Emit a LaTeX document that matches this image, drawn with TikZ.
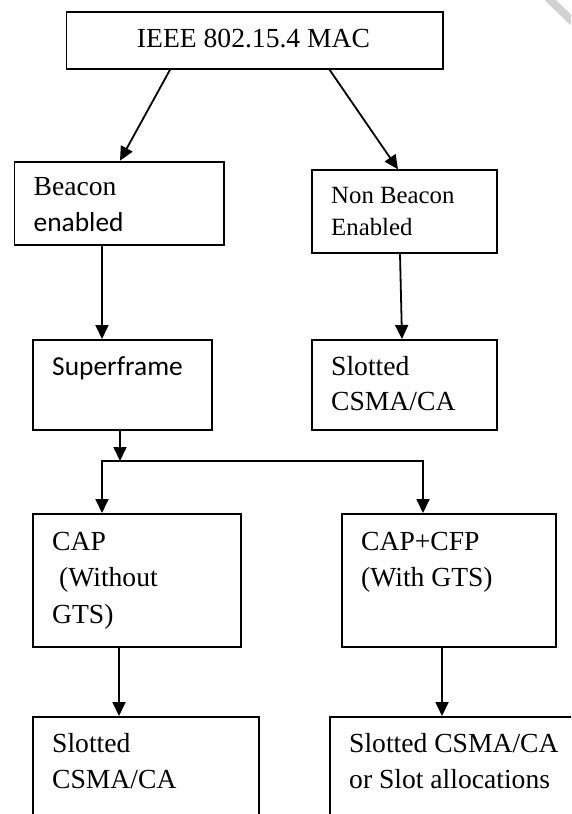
\documentclass[tikz,border=0pt]{standalone}
\usepackage{fontspec}
\setmainfont{Liberation Serif}
\newfontfamily\calibrifont{Carlito}
\usetikzlibrary{arrows.meta}

\tikzset{
  box/.style={draw=black, line width=1.8pt, rectangle, inner sep=0pt, anchor=north west},
  arr/.style={draw=black, line width=1.8pt, -{Triangle[length=14pt,width=13pt]}},
  plain/.style={draw=black, line width=1.8pt},
  lbl/.style={anchor=base west, inner sep=0pt, font=\fontsize{27.6}{33}\selectfont},
  lblsmall/.style={anchor=base west, inner sep=0pt, font=\fontsize{24.8}{30}\selectfont},
  lblsans/.style={anchor=base west, inner sep=0pt, font=\calibrifont\fontsize{27.4}{33}\selectfont}
}

\begin{document}
\begin{tikzpicture}[x=1pt,y=-1pt]
  \clip (0,0) rectangle (571,814);
  \fill[white] (0,0) rectangle (571,814);

  % faint stroke in the upper right corner
  \draw[line width=8pt, color=black!18] (548,-2) -- (573,22);

  % boxes
  \node[box, minimum width=376.5pt, minimum height=57pt]  (mac)    at (65.5,11)   {};
  \node[box, minimum width=209.5pt, minimum height=83pt]  (beacon) at (13.5,160.7) {};
  \node[box, minimum width=185pt,   minimum height=82.7pt] (nonb)  at (311,169.3) {};
  \node[box, minimum width=179pt,   minimum height=90pt]  (super)  at (32,339)    {};
  \node[box, minimum width=185pt,   minimum height=90pt]  (slota)  at (311,339)   {};
  \node[box, minimum width=208pt,   minimum height=133pt] (cap)    at (32,513)    {};
  \node[box, minimum width=214pt,   minimum height=133pt] (capcfp) at (341,513)   {};
  \node[box, minimum width=226pt,   minimum height=120pt] (slotb)  at (32,716)    {};
  \node[box, minimum width=252pt,   minimum height=120pt] (slotc)  at (329,716)   {};

  % texts
  \node[lbl, anchor=base] (tmac) at (253.5,47) {IEEE 802.15.4 MAC};

  \node[lbl] (tbeacon1) at (33.5,195.7) {Beacon};
  \node[lblsans] (tbeacon2) at (33.5,231.7) {enabled};

  \node[lblsmall] (tnonb1) at (331,203) {Non Beacon};
  \node[lblsmall] (tnonb2) at (331,235.7) {Enabled};

  \node[lblsans] (tsuper) at (52,375) {Superframe};

  \node[lbl] (tslota1) at (331,375) {Slotted};
  \node[lbl] (tslota2) at (331,410.7) {CSMA/CA};

  \node[lbl] (tcap1) at (52,550) {CAP};
  \node[lbl] (tcap2) at (59,586) {(Without};
  \node[lbl] (tcap3) at (52,623) {GTS)};

  \node[lbl] (tcapcfp1) at (361,550) {CAP+CFP};
  \node[lbl] (tcapcfp2) at (361,586) {(With GTS)};

  \node[lbl] (tslotb1) at (52,752) {Slotted};
  \node[lbl] (tslotb2) at (52,788) {CSMA/CA};

  \node[lbl] (tslotc1) at (349,752) {Slotted CSMA/CA};
  \node[lbl] (tslotc2) at (349,788) {or Slot allocations};

  % x positions where connectors meet the boxes
  \coordinate (xmacl) at (170,0);
  \coordinate (xmacr) at (329.6,0);
  \coordinate (xbeaconin) at (120,0);
  \coordinate (xnonbin) at (398,0);
  \coordinate (xleft) at (102,0);
  \coordinate (xnonbout) at (400,0);
  \coordinate (xslotain) at (402,0);
  \coordinate (xsuper) at (120,0);
  \coordinate (xcap) at (119,0);
  \coordinate (xcapcfp) at (442,0);

  % branching line below the superframe box
  \coordinate (jl) at (102,461);
  \coordinate (jm) at (120,461);
  \coordinate (jr) at (423,461);

  % connectors
  \draw[arr] (mac.south -| xmacl) -- (beacon.north -| xbeaconin);
  \draw[arr] (mac.south -| xmacr) -- (nonb.north -| xnonbin);
  \draw[arr] (beacon.south -| xleft) -- (super.north -| xleft);
  \draw[arr] (nonb.south -| xnonbout) -- (slota.north -| xslotain);
  \draw[arr] (super.south -| xsuper) -- (jm);
  \draw[plain, line cap=rect] (jl) -- (jr);
  \draw[arr] (jl) -- (cap.north -| jl);
  \draw[arr] (jr) -- (capcfp.north -| jr);
  \draw[arr] (cap.south -| xcap) -- (slotb.north -| xcap);
  \draw[arr] (capcfp.south -| xcapcfp) -- (slotc.north -| xcapcfp);
\end{tikzpicture}
\end{document}
